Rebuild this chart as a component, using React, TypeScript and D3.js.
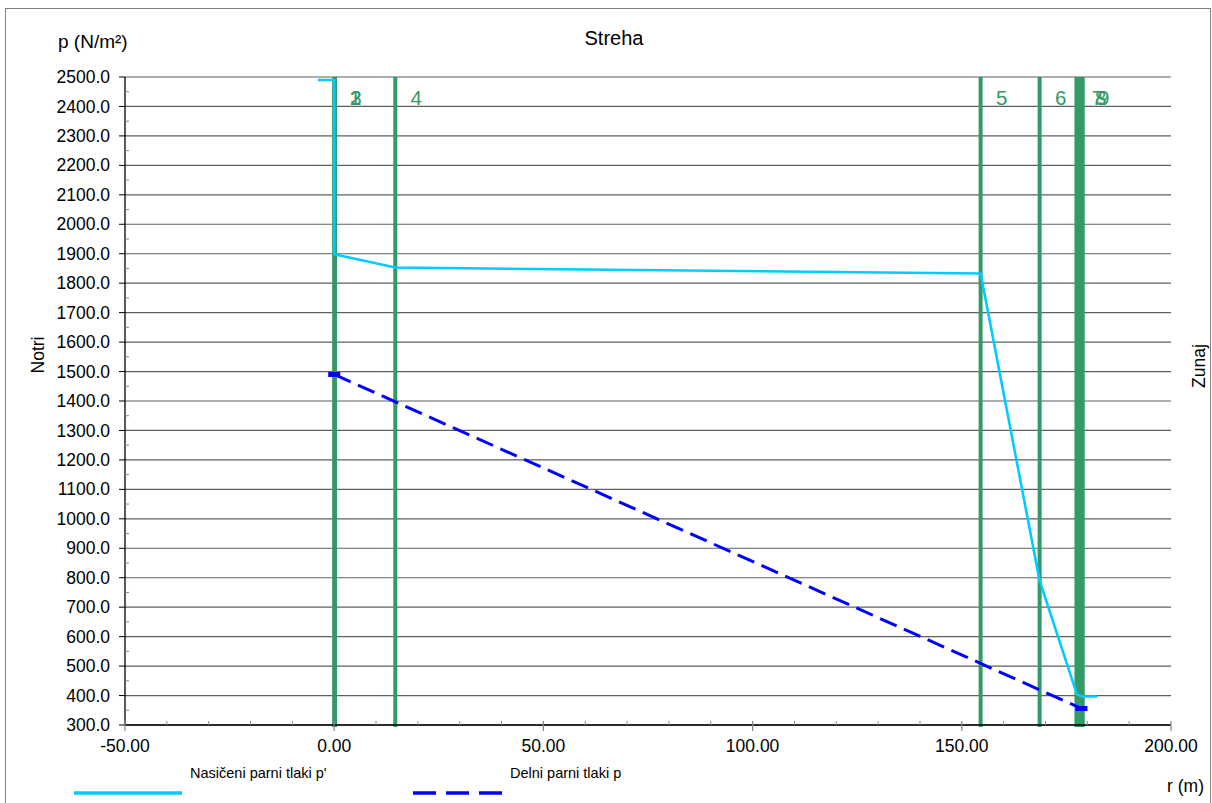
import React from "react";
import * as d3 from "d3";

// ---- data ----
const satR = [-3.9, 0, 0, 14.6, 154.5, 168.6, 177.5, 178.7, 182.4];
const satP = [2490, 2490, 1898, 1853, 1833, 790, 405, 397, 397];
const partR = [0, 178.6];
const partP = [1490, 356];
const boundaries = [0, 0.1, 0.2, 14.6, 154.5, 168.6, 177.4, 178.2, 178.9];
const layerLabels = ["1", "2", "3", "4", "5", "6", "7", "8", "9"];
const yTicks = d3.range(300, 2501, 100);
const yMinor = d3.range(350, 2500, 100);
const xTicks = [-50, 0, 50, 100, 150, 200];
const xMinor = d3.range(-40, 200, 10).filter((v) => v % 50 !== 0);

const W = 1212;
const H = 803;
const FONT = "'Liberation Sans', Arial, sans-serif";

export default function App() {
  const x = d3.scaleLinear().domain([-50, 200]).range([125, 1171]);
  const y = d3.scaleLinear().domain([300, 2500]).range([725, 77]);
  const line = d3
    .line<[number, number]>()
    .x((d) => x(d[0]))
    .y((d) => y(d[1]));
  const satPts = satR.map((r, i) => [r, satP[i]] as [number, number]);
  const partPts = partR.map((r, i) => [r, partP[i]] as [number, number]);
  const [x0, x1] = x.range();
  const [yb, yt] = y.range();

  return (
    <svg
      width={W}
      height={H}
      style={{ position: "absolute", left: 0, top: 0, background: "#fff" }}
      fontFamily={FONT}
    >
      <rect x={5.5} y={8.5} width={1205} height={800} fill="#fff" stroke="#7f7f7f" strokeWidth={1} />

      {/* gridlines */}
      {yTicks.map((t) => (
        <line key={"g" + t} x1={x0} x2={x1} y1={y(t)} y2={y(t)} stroke="#5f5f5f" strokeWidth={1.2} />
      ))}

      {/* y axis */}
      <line x1={x0} x2={x0} y1={yt} y2={yb} stroke="#000" strokeWidth={1.3} />
      {yTicks.map((t) => (
        <g key={"yt" + t}>
          <line x1={x0 - 6} x2={x0} y1={y(t)} y2={y(t)} stroke="#000" strokeWidth={1} />
          <text x={110} y={y(t)} dy="0.35em" textAnchor="end" fontSize={17.5} fill="#000">
            {t.toFixed(1)}
          </text>
        </g>
      ))}
      {yMinor.map((t) => (
        <line key={"ym" + t} x1={x0} x2={x0 + 4} y1={y(t)} y2={y(t)} stroke="#888" strokeWidth={1} />
      ))}

      {/* layer boundaries */}
      {boundaries.map((b, i) => (
        <line key={"b" + i} x1={x(b)} x2={x(b)} y1={yt} y2={yb + 2} stroke="#339966" strokeWidth={4} />
      ))}
      {boundaries.map((b, i) => (
        <text key={"bl" + i} x={x(b) + 21} y={105} textAnchor="middle" fontSize={20.5} fill="#339966">
          {layerLabels[i]}
        </text>
      ))}

      {/* x axis */}
      <line x1={x0} x2={x1} y1={yb} y2={yb} stroke="#000" strokeWidth={1.3} />
      {xMinor.map((t) => (
        <line key={"xm" + t} x1={x(t)} x2={x(t)} y1={yb - 4} y2={yb} stroke="#888" strokeWidth={1} />
      ))}
      {xTicks.map((t) => (
        <g key={"xt" + t}>
          <line x1={x(t)} x2={x(t)} y1={yb - 4} y2={yb + 6} stroke="#888" strokeWidth={1.2} />
          <text x={x(t)} y={752} textAnchor="middle" fontSize={17.5} fill="#000">
            {t.toFixed(2)}
          </text>
        </g>
      ))}

      {/* series */}
      <path d={line(partPts) || ""} fill="none" stroke="#0000ff" strokeWidth={3} strokeDasharray="18 8" />
      {partPts.map((d, i) => (
        <rect key={"pm" + i} x={x(d[0]) - 6} y={y(d[1]) - 2.5} width={12} height={5} fill="#0000ff" />
      ))}
      <path d={line(satPts) || ""} fill="none" stroke="#00ccff" strokeWidth={2.6} strokeLinejoin="miter" />

      {/* titles */}
      <text x={614} y={45} textAnchor="middle" fontSize={20} fill="#000">Streha</text>
      <text x={58} y={48} fontSize={19} fill="#000">p (N/m²)</text>
      <text transform="translate(44,355) rotate(-90)" textAnchor="middle" fontSize={17.5} fill="#000">Notri</text>
      <text transform="translate(1205,366) rotate(-90)" textAnchor="middle" fontSize={17.5} fill="#000">Zunaj</text>
      <text x={1204} y={792} textAnchor="end" fontSize={17.5} fill="#000">r (m)</text>

      {/* legend */}
      <text x={190} y={778} fontSize={14.5} fill="#000">Nasičeni parni tlaki p'</text>
      <line x1={74} x2={182} y1={793} y2={793} stroke="#00ccff" strokeWidth={3.5} />
      <text x={510} y={778} fontSize={14.5} fill="#000">Delni parni tlaki p</text>
      <line x1={413} x2={503} y1={793} y2={793} stroke="#0000ff" strokeWidth={3.5} strokeDasharray="23 10" />
    </svg>
  );
}
